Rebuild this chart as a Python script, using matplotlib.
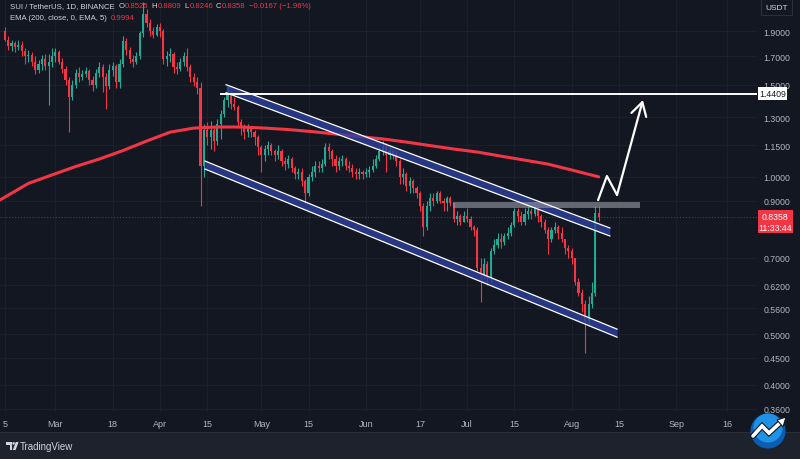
import matplotlib
matplotlib.use("Agg")
import matplotlib.dates as mdates
import matplotlib.patheffects as pe
import matplotlib.pyplot as plt
import numpy as np
import pandas as pd
from matplotlib.patches import Circle, Polygon, Rectangle
from matplotlib.ticker import NullLocator
from matplotlib.transforms import IdentityTransform

W, H = 800, 460
BG = "#131722"
TEXT = "#b2b5be"
LIGHT = "#d1d4dc"
UP = "#22ab94"
DOWN = "#f23645"
GRID = "#1c202c"
BAND = "#2e409e"

plt.rcParams["font.family"] = ["Liberation Sans", "DejaVu Sans"]

# daily candles SUI/USDT, 2024-02-15 .. 2024-08-09
start_date = "2024-02-15"
first_open = 1.90
closes = [
    # Feb
    1.83, 1.78, 1.80, 1.77, 1.79, 1.74, 1.70, 1.71, 1.66, 1.60, 1.64, 1.68, 1.63, 1.66, 1.70,
    # Mar
    1.73, 1.66, 1.61, 1.53, 1.42, 1.50, 1.58, 1.55, 1.57, 1.59, 1.53, 1.50, 1.58, 1.62, 1.55,
    1.49, 1.60, 1.63, 1.52, 1.64, 1.82, 1.75, 1.68, 1.66, 1.70, 1.88, 2.05, 1.97, 1.90, 1.87, 1.93,
    # Apr
    1.90, 1.68, 1.70, 1.72, 1.62, 1.61, 1.66, 1.70, 1.62, 1.55, 1.52, 1.48, 1.05, 1.23, 1.19,
    1.23, 1.17, 1.26, 1.32, 1.40, 1.44, 1.38, 1.36, 1.27, 1.24, 1.22, 1.24, 1.22, 1.19, 1.14,
    # May
    1.10, 1.13, 1.15, 1.12, 1.10, 1.12, 1.07, 1.06, 1.08, 1.04, 1.01, 1.02, 0.98, 0.93, 1.00,
    1.02, 1.05, 1.04, 1.06, 1.14, 1.12, 1.08, 1.05, 1.07, 1.08, 1.05, 1.04, 1.02, 1.01, 1.02, 1.01,
    # Jun
    1.02, 1.03, 1.05, 1.08, 1.12, 1.14, 1.10, 1.12, 1.10, 1.07, 1.00, 1.01, 0.96, 0.98, 0.95,
    0.93, 0.88, 0.80, 0.88, 0.91, 0.90, 0.93, 0.90, 0.89, 0.91, 0.89, 0.83, 0.84, 0.82, 0.84,
    # Jul
    0.83, 0.80, 0.79, 0.67, 0.65, 0.68, 0.64, 0.72, 0.74, 0.76, 0.75, 0.77, 0.78, 0.81, 0.86,
    0.84, 0.82, 0.85, 0.86, 0.85, 0.87, 0.84, 0.82, 0.79, 0.76, 0.79, 0.80, 0.78, 0.76, 0.73, 0.72,
    # Aug
    0.70, 0.63, 0.60, 0.57, 0.53, 0.57, 0.60, 0.8525, 0.8358,
]
highs = [
    1.93, 1.86, 1.83, 1.82, 1.83, 1.82, 1.76, 1.75, 1.73, 1.70, 1.67, 1.71, 1.72, 1.72, 1.76,
    1.76, 1.75, 1.69, 1.63, 1.55, 1.53, 1.61, 1.62, 1.60, 1.62, 1.61, 1.56, 1.61, 1.66, 1.64,
    1.58, 1.64, 1.66, 1.64, 1.68, 1.86, 1.84, 1.77, 1.71, 1.73, 1.90, 2.16, 2.09, 2.00, 1.93, 1.96,
    1.97, 1.92, 1.74, 1.76, 1.73, 1.66, 1.69, 1.73, 1.76, 1.64, 1.58, 1.55, 1.52, 1.26, 1.27,
    1.28, 1.25, 1.29, 1.34, 1.42, 1.49, 1.46, 1.42, 1.37, 1.29, 1.26, 1.26, 1.25, 1.23, 1.20,
    1.15, 1.15, 1.17, 1.16, 1.13, 1.15, 1.13, 1.09, 1.10, 1.09, 1.05, 1.04, 1.04, 0.99, 1.01,
    1.05, 1.07, 1.07, 1.08, 1.16, 1.16, 1.13, 1.10, 1.09, 1.10, 1.09, 1.07, 1.06, 1.04, 1.04, 1.03,
    1.04, 1.05, 1.08, 1.10, 1.14, 1.17, 1.16, 1.14, 1.13, 1.12, 1.08, 1.04, 1.02, 1.00, 0.99,
    0.96, 0.94, 0.89, 0.90, 0.93, 0.93, 0.94, 0.94, 0.91, 0.92, 0.92, 0.89, 0.86, 0.85, 0.86,
    0.87, 0.84, 0.81, 0.80, 0.70, 0.70, 0.69, 0.73, 0.76, 0.78, 0.78, 0.78, 0.80, 0.82, 0.87,
    0.87, 0.86, 0.87, 0.88, 0.87, 0.89, 0.88, 0.85, 0.83, 0.80, 0.80, 0.82, 0.81, 0.80, 0.76, 0.74,
    0.73, 0.70, 0.64, 0.61, 0.58, 0.59, 0.63, 0.88, 0.8809,
]
lows = [
    1.82, 1.75, 1.74, 1.73, 1.75, 1.70, 1.64, 1.66, 1.63, 1.57, 1.58, 1.60, 1.60, 1.37, 1.62,
    1.66, 1.64, 1.58, 1.50, 1.22, 1.40, 1.48, 1.52, 1.53, 1.55, 1.50, 1.46, 1.48, 1.55, 1.45,
    1.35, 1.47, 1.56, 1.48, 1.48, 1.62, 1.71, 1.65, 1.62, 1.64, 1.68, 1.85, 1.93, 1.86, 1.84, 1.86,
    1.85, 1.64, 1.63, 1.66, 1.58, 1.57, 1.59, 1.63, 1.59, 1.52, 1.49, 1.44, 0.88, 1.00, 1.15,
    1.13, 1.12, 1.15, 1.18, 1.30, 1.36, 1.35, 1.34, 1.24, 1.20, 1.18, 1.19, 1.19, 1.15, 1.10,
    1.02, 1.07, 1.10, 1.10, 1.07, 1.08, 1.05, 1.03, 1.04, 1.02, 0.99, 0.99, 0.96, 0.89, 0.92,
    0.98, 1.00, 1.02, 1.02, 1.05, 1.08, 1.05, 1.02, 1.03, 1.05, 1.03, 1.02, 1.00, 0.99, 0.99, 0.99,
    1.00, 1.00, 1.02, 1.04, 1.07, 1.10, 1.02, 1.08, 1.08, 1.05, 0.97, 0.97, 0.94, 0.93, 0.93,
    0.91, 0.86, 0.77, 0.79, 0.86, 0.88, 0.89, 0.89, 0.86, 0.86, 0.88, 0.82, 0.81, 0.81, 0.82,
    0.82, 0.79, 0.77, 0.66, 0.575, 0.64, 0.62, 0.63, 0.71, 0.73, 0.73, 0.74, 0.76, 0.77, 0.80,
    0.82, 0.81, 0.81, 0.83, 0.83, 0.84, 0.82, 0.80, 0.78, 0.71, 0.75, 0.78, 0.76, 0.75, 0.71, 0.70,
    0.68, 0.62, 0.59, 0.55, 0.46, 0.52, 0.56, 0.59, 0.8246,
]

# EMA(200)
ema_dates = [
    "2024-02-13", "2024-02-22", "2024-02-29", "2024-03-07", "2024-03-14", "2024-03-21",
    "2024-03-28", "2024-04-04", "2024-04-11", "2024-04-18", "2024-04-25", "2024-05-02",
    "2024-05-09", "2024-05-16", "2024-05-23", "2024-05-30", "2024-06-06", "2024-06-13",
    "2024-06-20", "2024-06-27", "2024-07-04", "2024-07-11", "2024-07-18", "2024-07-25",
    "2024-08-01", "2024-08-09",
]
ema_values = [
    0.898, 0.971, 1.008, 1.046, 1.081, 1.122, 1.170, 1.217, 1.239, 1.245, 1.245, 1.239,
    1.231, 1.220, 1.207, 1.194, 1.181, 1.165, 1.147, 1.130, 1.115, 1.095, 1.076, 1.057,
    1.030, 0.9994,
]

price_ticks = [1.9, 1.7, 1.5, 1.3, 1.15, 1.0, 0.9, 0.7, 0.62, 0.56, 0.5, 0.45, 0.4, 0.36]
date_ticks = ["2024-02-15", "2024-03-01", "2024-03-18", "2024-04-01", "2024-04-15",
              "2024-05-01", "2024-05-15", "2024-06-01", "2024-06-17", "2024-07-01",
              "2024-07-15", "2024-08-01", "2024-08-15", "2024-09-01", "2024-09-16"]
date_labels = ["5", "Mar", "18", "Apr", "15", "May", "15", "Jun", "17", "Jul", "15",
               "Aug", "15", "Sep", "16"]

last_price = 0.8358
level_price = 1.4409
zone = (0.871, 0.895)


def dnum(s):
    return mdates.date2num(np.datetime64(s))


def px(x, y):
    return x / W, 1 - y / H


fig = plt.figure(figsize=(W / 100, H / 100), dpi=100, facecolor=BG)
ax = fig.add_axes((0, 47 / H, 757 / W, 413 / H))
ax.set_facecolor(BG)
ax.set_yscale("log")

dates = pd.date_range(start_date, periods=len(closes), freq="D")
x = mdates.date2num(dates.to_numpy())
c = np.array(closes)
o = np.r_[first_open, c[:-1]]
hi = np.maximum.reduce([np.array(highs), o, c])
lo = np.minimum.reduce([np.array(lows), o, c])
col = np.where(c >= o, UP, DOWN)
ax.vlines(x, lo, hi, colors=col, lw=0.8, zorder=2)
ax.bar(x, np.abs(c - o), bottom=np.minimum(o, c), width=0.62, color=col, lw=0, zorder=3)

ax.plot(mdates.date2num(np.array(ema_dates, dtype="datetime64[D]")), ema_values,
        color=DOWN, lw=2.2, zorder=4, solid_capstyle="round", solid_joinstyle="round")

ax.axhline(last_price, color=DOWN, lw=0.7, ls=(0, (1, 2)), alpha=0.6, zorder=1)


def channel(start, end, thick=1.036):
    xs = [dnum(start[0]), dnum(end[0])]
    top = np.array([start[1], end[1]])
    bot = top / thick
    ax.fill_between(xs, bot, top, color=BAND, alpha=0.8, lw=0, zorder=5)
    ax.plot(xs, top, color="white", lw=0.9, zorder=6)
    ax.plot(xs, bot, color="white", lw=0.9, zorder=6)


channel(("2024-04-20T14", 1.50), ("2024-08-12T07", 0.798))
channel(("2024-04-14T08", 1.0716), ("2024-08-14T10", 0.511))

x0, x1 = dnum("2024-04-01") - 47.41, dnum("2024-04-01") + 176.89
ax.hlines(level_price, dnum("2024-04-18T19"), x1, color="white", lw=1.4, zorder=6)
ax.fill_between([dnum("2024-06-26T19"), dnum("2024-08-21T05")], zone[0], zone[1],
                color="#8f939c", alpha=0.65, lw=0, zorder=5)

# projected path
path_x = [dnum("2024-08-08T19"), dnum("2024-08-11T10"), dnum("2024-08-14T10"), dnum("2024-08-22T02")]
path_y = [0.902, 1.003, 0.923, 1.402]
ax.plot(path_x[:3], path_y[:3], color="white", lw=1.6, zorder=7, solid_capstyle="round")
ax.annotate("", xy=(path_x[3], path_y[3]), xytext=(path_x[2], path_y[2]),
            arrowprops=dict(arrowstyle="->,head_length=0.95,head_width=0.55", color="white",
                            lw=1.6, shrinkA=0, shrinkB=0, mutation_scale=10), zorder=7)

ax.set_xlim(x0, x1)
ax.set_ylim(0.3547, 2.188)
ax.set_yticks(price_ticks)
ax.yaxis.set_minor_locator(NullLocator())
ax.set_yticklabels([f"{p:.4f}" for p in price_ticks])
ax.yaxis.tick_right()
ax.tick_params(axis="y", length=0, pad=4.5, labelsize=6.3, labelcolor=TEXT)
ax.set_xticks(mdates.date2num(np.array(date_ticks, dtype="datetime64[D]")))
ax.set_xticklabels(date_labels)
ax.tick_params(axis="x", length=0, pad=5, labelsize=6.5, labelcolor=TEXT)
ax.grid(True, color=GRID, lw=0.8)
ax.set_axisbelow(True)
for s in ax.spines.values():
    s.set_visible(False)

# header, laid out piece by piece
rend = fig.canvas.get_renderer()


def text_row(y, pieces, x_start=10, size=5.6):
    xx = x_start
    for t, cc, gap in pieces:
        tx = fig.text(*px(xx, y), t, color=cc, fontsize=size, va="center")
        xx += tx.get_window_extent(rend).width + gap


text_row(7, [("SUI / TetherUS, 1D, BINANCE", LIGHT, 4), ("O", LIGHT, 0.5), ("0.8525", DOWN, 3),
             ("H", LIGHT, 0.5), ("0.8809", DOWN, 3), ("L", LIGHT, 0.5), ("0.8246", DOWN, 3),
             ("C", LIGHT, 0.5), ("0.8358", DOWN, 3), ("\u22120.0167 (\u22121.96%)", DOWN, 0)])
text_row(19, [("EMA (200, close, 0, EMA, 5)", LIGHT, 4), ("0.9994", DOWN, 0)])

# price scale labels
fig.add_artist(Rectangle(px(761, 16), 31 / W, 16 / H, transform=fig.transFigure,
                         facecolor=BG, edgecolor="#2a2e39", lw=0.8))
fig.text(*px(776.5, 8), "USDT", color=LIGHT, fontsize=6, ha="center", va="center")
fig.add_artist(Rectangle(px(758, 101), 29 / W, 13 / H, transform=fig.transFigure,
                         facecolor="white", lw=0))
fig.text(*px(772.5, 94.5), f"{level_price:.4f}", color="#131722", fontsize=6.3, ha="center", va="center")
fig.add_artist(Rectangle(px(758, 234), 35 / W, 23 / H, transform=fig.transFigure,
                         facecolor=DOWN, lw=0))
fig.text(*px(775, 217.5), f"{last_price:.4f}", color="white", fontsize=6.3, ha="center", va="center")
fig.text(*px(775, 229), "11:33:44", color="white", fontsize=6.3, ha="center", va="center")

# bottom strip with TradingView mark
fig.add_artist(Rectangle((0, 0), 1, 26 / H, transform=fig.transFigure, facecolor="#1e222d", lw=0))
fig.add_artist(Rectangle((0, 26 / H), 1, 1 / H, transform=fig.transFigure, facecolor="#2a2e39", lw=0))
idt = IdentityTransform()


def dp(pts):
    return [(a, H - b) for a, b in pts]


fig.add_artist(Polygon(dp([(6, 443), (12, 443), (12, 451), (9.5, 451), (9.5, 445.5), (6, 445.5)]),
                       transform=idt, facecolor=LIGHT, lw=0))
fig.add_artist(Circle((13.6, H - 444.4), 1.3, transform=idt, facecolor=LIGHT, lw=0))
fig.add_artist(Polygon(dp([(15.8, 443), (18.6, 443), (15.6, 451), (12.8, 451)]),
                       transform=idt, facecolor=LIGHT, lw=0))
fig.text(*px(20, 447.5), "TradingView", color=LIGHT, fontsize=7, va="center")

# round badge bottom right
fig.add_artist(Circle((768, H - 432), 17.5, transform=idt, facecolor="#0a5fb4", lw=0, zorder=20))
fig.add_artist(Circle((768, H - 429), 14.5, transform=idt, facecolor="#1e93e6", lw=0, zorder=20))
zig = dp([(753, 437), (762, 427), (769, 434), (781, 423)])
zx, zy = zip(*zig)
ln = plt.Line2D(zx, zy, transform=idt, color="white", lw=2.6, zorder=21,
                solid_capstyle="round", solid_joinstyle="miter")
ln.set_path_effects([pe.Stroke(linewidth=4.2, foreground="#10151f"), pe.Normal()])
fig.add_artist(ln)
fig.add_artist(Polygon(dp([(786, 418), (777, 421), (783, 428)]), transform=idt,
                       facecolor="white", edgecolor="#10151f", lw=0.8, zorder=22))

fig.savefig("out.png", dpi=100, facecolor=BG)
